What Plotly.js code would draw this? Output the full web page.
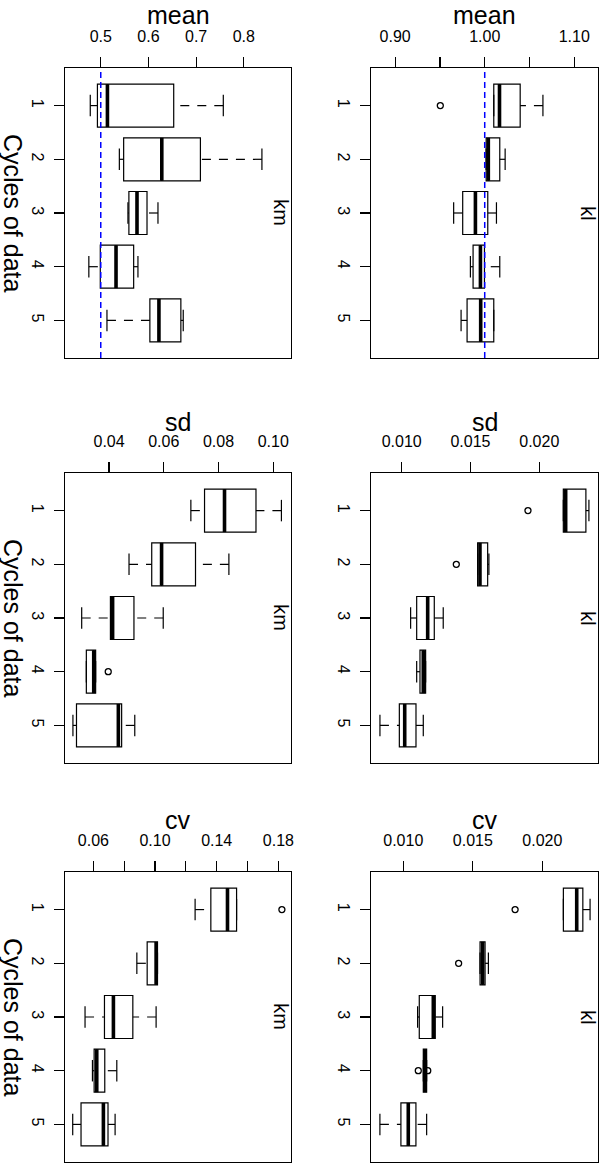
<!DOCTYPE html>
<html>
<head>
<meta charset="utf-8">
<script src="https://cdn.plot.ly/plotly-3.0.1.min.js"></script>
<style>
  html, body { margin: 0; padding: 0; background: #fff; }
  #chart { width: 600px; height: 1163px; }
</style>
</head>
<body>
<div id="chart"></div>
<script>
// ---------- DATA ----------
const cycles = [1, 2, 3, 4, 5];
const cycleLabels = ['1', '2', '3', '4', '5'];
const yTitle = 'Cycles of data';
const statNames = ['mean', 'mean', 'sd', 'sd', 'cv', 'cv'];
const methodNames = ['km', 'kl', 'km', 'kl', 'km', 'kl'];

// km - mean
const kmMeanLo  = [0.478, 0.539, 0.557, 0.475, 0.513];
const kmMeanQ1  = [0.493, 0.548, 0.559, 0.499, 0.603];
const kmMeanMed = [0.514, 0.628, 0.576, 0.532, 0.622];
const kmMeanQ3  = [0.653, 0.709, 0.597, 0.569, 0.668];
const kmMeanHi  = [0.757, 0.838, 0.620, 0.578, 0.673];
const kmMeanOutX = [];
const kmMeanOutY = [];
const kmMeanRef = [0.5];

// kl - mean
const klMeanLo  = [1.0101, 1.0016, 0.9653, 0.9840, 0.9736];
const klMeanQ1  = [1.0101, 1.0016, 0.9754, 0.9870, 0.9803];
const klMeanMed = [1.0165, 1.0040, 0.9896, 0.9952, 0.9955];
const klMeanQ3  = [1.0396, 1.0168, 1.0034, 0.9997, 1.0101];
const klMeanHi  = [1.0650, 1.0228, 1.0131, 1.0168, 1.0101];
const klMeanOutX = [0.9504];
const klMeanOutY = [1];
const klMeanRef = [1.0];

// km - sd
const kmSdLo  = [0.0699, 0.0473, 0.0300, 0.0317, 0.0268];
const kmSdQ1  = [0.0749, 0.0556, 0.0405, 0.0317, 0.0281];
const kmSdMed = [0.0822, 0.0592, 0.0413, 0.0344, 0.0434];
const kmSdQ3  = [0.0937, 0.0716, 0.0491, 0.0351, 0.0446];
const kmSdHi  = [0.1030, 0.0838, 0.0598, 0.0351, 0.0494];
const kmSdOutX = [0.0397];
const kmSdOutY = [4];

// kl - sd
const klSdLo  = [0.02175, 0.01552, 0.01065, 0.01109, 0.00842];
const klSdQ1  = [0.02175, 0.01552, 0.01109, 0.01133, 0.00983];
const klSdMed = [0.02192, 0.01569, 0.01189, 0.01157, 0.01022];
const klSdQ3  = [0.02339, 0.01625, 0.01237, 0.01174, 0.01104];
const klSdHi  = [0.02361, 0.01634, 0.01302, 0.01174, 0.01157];
const klSdOutX = [0.01918, 0.01397];
const klSdOutY = [1, 2];

// km - cv
const kmCvLo  = [0.1260, 0.0882, 0.0546, 0.0594, 0.0466];
const kmCvQ1  = [0.1362, 0.0949, 0.0672, 0.0605, 0.0520];
const kmCvMed = [0.1470, 0.1007, 0.0730, 0.0622, 0.0665];
const kmCvQ3  = [0.1529, 0.1016, 0.0856, 0.0674, 0.0695];
const kmCvHi  = [0.1529, 0.1016, 0.1007, 0.0752, 0.0741];
const kmCvOutX = [0.1823];
const kmCvOutY = [1];

// kl - cv
const klCvLo  = [0.02151, 0.01552, 0.01103, 0.01144, 0.00832];
const klCvQ1  = [0.02151, 0.01552, 0.01115, 0.01144, 0.00983];
const klCvMed = [0.02247, 0.01571, 0.01216, 0.01156, 0.01036];
const klCvQ3  = [0.02291, 0.01588, 0.01230, 0.01168, 0.01091];
const klCvHi  = [0.02343, 0.01612, 0.01283, 0.01168, 0.01168];
const klCvOutX = [0.01804, 0.01398, 0.01108, 0.01176];
const klCvOutY = [1, 2, 4, 4];

// tick values / labels per panel
const tickVals1 = [0.5, 0.6, 0.7, 0.8];
const tickText1 = ['0.5', '0.6', '0.7', '0.8'];
const tickVals2 = [0.90, 0.95, 1.00, 1.05, 1.10];
const tickText2 = ['0.90', '', '1.00', '', '1.10'];
const tickVals3 = [0.04, 0.06, 0.08, 0.10];
const tickText3 = ['0.04', '0.06', '0.08', '0.10'];
const tickVals4 = [0.010, 0.015, 0.020];
const tickText4 = ['0.010', '0.015', '0.020'];
const tickVals5 = [0.06, 0.08, 0.10, 0.12, 0.14, 0.16, 0.18];
const tickText5 = ['0.06', '', '0.10', '', '0.14', '', '0.18'];
const tickVals6 = [0.010, 0.015, 0.020];
const tickText6 = ['0.010', '0.015', '0.020'];

// ---------- STYLE / LAYOUT ----------
const W = 600, H = 1163;
const FONT = 'Liberation Sans, Arial, Helvetica, sans-serif';
const BOX_W = 0.8, CAP_W = 0.4;
const LW = 1.2;

const panels = [
  {lo: kmMeanLo, q1: kmMeanQ1, med: kmMeanMed, q3: kmMeanQ3, hi: kmMeanHi, ox: kmMeanOutX, oy: kmMeanOutY, ref: kmMeanRef, tv: tickVals1, tt: tickText1, range: [0.425, 0.899]},
  {lo: klMeanLo, q1: klMeanQ1, med: klMeanMed, q3: klMeanQ3, hi: klMeanHi, ox: klMeanOutX, oy: klMeanOutY, ref: klMeanRef, tv: tickVals2, tt: tickText2, range: [0.873, 1.1265]},
  {lo: kmSdLo, q1: kmSdQ1, med: kmSdMed, q3: kmSdQ3, hi: kmSdHi, ox: kmSdOutX, oy: kmSdOutY, ref: [], tv: tickVals3, tt: tickText3, range: [0.0239, 0.1065]},
  {lo: klSdLo, q1: klSdQ1, med: klSdMed, q3: klSdQ3, hi: klSdHi, ox: klSdOutX, oy: klSdOutY, ref: [], tv: tickVals4, tt: tickText4, range: [0.00777, 0.02427]},
  {lo: kmCvLo, q1: kmCvQ1, med: kmCvMed, q3: kmCvQ3, hi: kmCvHi, ox: kmCvOutX, oy: kmCvOutY, ref: [], tv: tickVals5, tt: tickText5, range: [0.0416, 0.1882]},
  {lo: klCvLo, q1: klCvQ1, med: klCvMed, q3: klCvQ3, hi: klCvHi, ox: klCvOutX, oy: klCvOutY, ref: [], tv: tickVals6, tt: tickText6, range: [0.00768, 0.0240]}
];

// frame pixel boxes: [left, right], [top, bottom]
const colPx = [[65, 291], [371, 598]];
const rowPx = [[68, 358], [473, 763], [872, 1162]];
const titleYPx = [15, 422, 820];

const traces = [];
const layout = {
  width: W, height: H,
  margin: {l: 0, r: 0, t: 0, b: 0},
  paper_bgcolor: '#ffffff', plot_bgcolor: '#ffffff',
  showlegend: false,
  font: {family: FONT, color: '#000000', size: 16},
  shapes: [], annotations: []
};

panels.forEach((p, i) => {
  const n = i + 1;
  const xa = n === 1 ? 'x' : 'x' + n;
  const ya = n === 1 ? 'y' : 'y' + n;
  const col = i % 2, row = Math.floor(i / 2);
  const [l, r] = colPx[col], [t, b] = rowPx[row];

  // boxes
  traces.push({
    type: 'box', orientation: 'h', xaxis: xa, yaxis: ya,
    y: cycles, q1: p.q1, median: p.med, q3: p.q3,
    lowerfence: p.q1, upperfence: p.q3,
    width: BOX_W, whiskerwidth: 0,
    line: {color: '#000000', width: LW},
    fillcolor: 'rgba(0,0,0,0)', boxpoints: false, hoverinfo: 'skip'
  });
  // dashed whiskers (drawn from fence to box)
  const wx = [], wy = [], cx = [], cy = [], mx = [], my = [];
  cycles.forEach((c, k) => {
    wx.push(p.hi[k], p.q3[k], null, p.lo[k], p.q1[k], null);
    wy.push(c, c, null, c, c, null);
    cx.push(p.hi[k], p.hi[k], null, p.lo[k], p.lo[k], null);
    cy.push(c - CAP_W / 2, c + CAP_W / 2, null, c - CAP_W / 2, c + CAP_W / 2, null);
    mx.push(p.med[k], p.med[k], null);
    my.push(c - BOX_W / 2, c + BOX_W / 2, null);
  });
  traces.push({type: 'scatter', mode: 'lines', xaxis: xa, yaxis: ya, x: wx, y: wy,
    line: {color: '#000000', width: LW, dash: '9px,8px'}, hoverinfo: 'skip', connectgaps: false});
  traces.push({type: 'scatter', mode: 'lines', xaxis: xa, yaxis: ya, x: cx, y: cy,
    line: {color: '#000000', width: LW}, hoverinfo: 'skip', connectgaps: false});
  traces.push({type: 'scatter', mode: 'lines', xaxis: xa, yaxis: ya, x: mx, y: my,
    line: {color: '#000000', width: 3.6}, hoverinfo: 'skip', connectgaps: false});
  if (p.ox.length) {
    traces.push({type: 'scatter', mode: 'markers', xaxis: xa, yaxis: ya, x: p.ox, y: p.oy,
      marker: {symbol: 'circle-open', size: 6, color: '#000000', line: {width: 1.3, color: '#000000'}},
      hoverinfo: 'skip'});
  }

  const xKey = n === 1 ? 'xaxis' : 'xaxis' + n;
  const yKey = n === 1 ? 'yaxis' : 'yaxis' + n;
  layout[xKey] = {
    domain: [l / W, r / W], anchor: ya, side: 'top',
    range: p.range, tickmode: 'array', tickvals: p.tv, ticktext: p.tt,
    ticks: 'outside', ticklen: 10, tickwidth: 1.2, tickcolor: '#000000',
    ticklabelstandoff: 8,
    showline: true, mirror: true, linecolor: '#000000', linewidth: 1.3,
    showgrid: false, zeroline: false, fixedrange: true,
    tickfont: {family: FONT, size: 16, color: '#000000'}
  };
  layout[yKey] = {
    domain: [1 - b / H, 1 - t / H], anchor: xa,
    range: [5.7, 0.3], tickmode: 'array', tickvals: cycles, ticktext: cycleLabels,
    tickangle: 90,
    ticks: 'outside', ticklen: 10, tickwidth: 1.2, tickcolor: '#000000',
    ticklabelstandoff: 2,
    showline: true, mirror: true, linecolor: '#000000', linewidth: 1.3,
    showgrid: false, zeroline: false, fixedrange: true,
    tickfont: {family: FONT, size: 16, color: '#000000'}
  };

  // reference line
  p.ref.forEach(v => {
    layout.shapes.push({type: 'line', xref: xa, yref: ya + ' domain', x0: v, x1: v, y0: 0, y1: 1,
      line: {color: '#0000ff', width: 1.5, dash: '6px,4px'}, layer: 'above'});
  });

  // panel title (stat name)
  layout.annotations.push({text: statNames[i], xref: xa + ' domain', x: 0.5, xanchor: 'center',
    yref: 'paper', y: 1 - titleYPx[row] / H, yanchor: 'middle', showarrow: false,
    font: {family: FONT, size: 25, color: '#000000'}});
  // method label on right side
  layout.annotations.push({text: methodNames[i], xref: xa + ' domain', x: 0.955, xanchor: 'center',
    yref: ya, y: 3, yanchor: 'middle', textangle: 90, showarrow: false,
    font: {family: FONT, size: 20, color: '#000000'}});
  // y title on left column
  if (col === 0) {
    layout.annotations.push({text: yTitle, xref: 'paper', x: 13 / W, xanchor: 'center',
      yref: ya, y: 3, yanchor: 'middle', textangle: 90, showarrow: false,
      font: {family: FONT, size: 25, color: '#000000'}});
  }
});

Plotly.newPlot('chart', traces, layout, {displayModeBar: false, staticPlot: true});
</script>
</body>
</html>
